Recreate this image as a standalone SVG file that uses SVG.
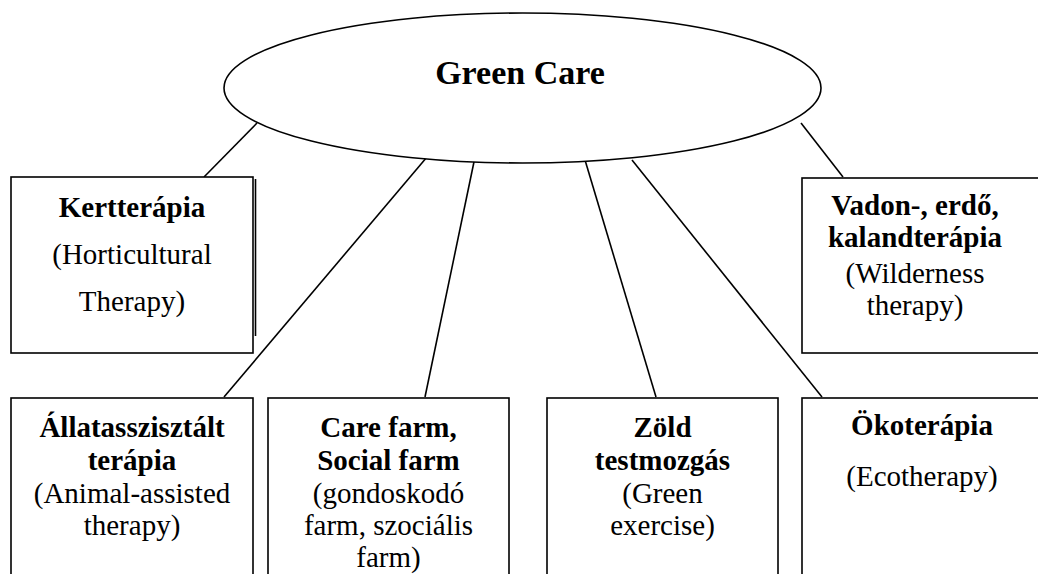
<svg xmlns="http://www.w3.org/2000/svg" width="1038" height="574" viewBox="0 0 1038 574" font-family="'Liberation Serif', 'Times New Roman', 'DejaVu Serif', serif">
<style>
.shape{fill:#fff;stroke:#000;stroke-width:1.6}
.conn{stroke:#000;stroke-width:1.6;fill:none}
text{font-family:'Liberation Serif','Times New Roman','DejaVu Serif',serif;font-size:29px;fill:#000;text-anchor:middle}
.b{font-weight:bold}
.title{font-size:34px;font-weight:bold}
</style>
<rect width="1038" height="574" fill="#fff"/>
<g id="connectors">
<line class="conn" x1="257" y1="123" x2="204" y2="177"/>
<line class="conn" x1="427" y1="157" x2="224" y2="397"/>
<line class="conn" x1="475" y1="157" x2="425" y2="397"/>
<line class="conn" x1="585" y1="160" x2="656" y2="397"/>
<line class="conn" x1="632" y1="160" x2="822" y2="397"/>
<line class="conn" x1="801" y1="123" x2="843" y2="177"/>
</g>
<g id="green-care">
<ellipse class="shape" cx="522.5" cy="88" rx="298.5" ry="75"/>
<text class="title" x="520" y="84" font-family="'Liberation Serif', serif">Green Care</text>
</g>
<g id="kertterapia">
<line x1="255.5" y1="179" x2="255.5" y2="336" stroke="#000" stroke-width="1.6"/>
<rect class="shape" x="11" y="177" width="242" height="176"/>
<text class="b" x="132" y="217">Kertterápia</text>
<text x="132" y="264">(Horticultural</text>
<text x="132" y="311">Therapy)</text>
</g>
<g id="vadon">
<rect class="shape" x="802" y="178" width="250" height="175"/>
<text class="b" x="915" y="215">Vadon-, erdő,</text>
<text class="b" x="915" y="247">kalandterápia</text>
<text x="915" y="283">(Wilderness</text>
<text x="915" y="315">therapy)</text>
</g>
<g id="allatasszisztalt">
<rect class="shape" x="11" y="398" width="242" height="190"/>
<text class="b" x="132" y="437">Állatasszisztált</text>
<text class="b" x="132" y="470">terápia</text>
<text x="132" y="503">(Animal-assisted</text>
<text x="132" y="535">therapy)</text>
</g>
<g id="care-farm">
<rect class="shape" x="268" y="398" width="241" height="190"/>
<text class="b" x="388.5" y="437">Care farm,</text>
<text class="b" x="388.5" y="470">Social farm</text>
<text x="388.5" y="503">(gondoskodó</text>
<text x="388.5" y="535">farm, szociális</text>
<text x="388.5" y="567">farm)</text>
</g>
<g id="zold">
<rect class="shape" x="547" y="398" width="231" height="190"/>
<text class="b" x="662.5" y="437">Zöld</text>
<text class="b" x="662.5" y="470">testmozgás</text>
<text x="662.5" y="503">(Green</text>
<text x="662.5" y="535">exercise)</text>
</g>
<g id="okoterapia">
<rect class="shape" x="802" y="398" width="250" height="190"/>
<text class="b" x="922" y="435">Ökoterápia</text>
<text x="922" y="486">(Ecotherapy)</text>
</g>
</svg>
